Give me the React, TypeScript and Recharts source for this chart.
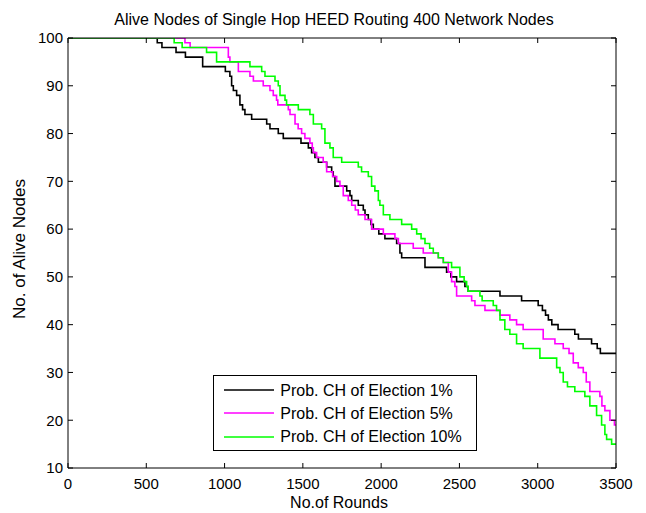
import React from "react";
import { LineChart, Line, XAxis, YAxis, Legend, Label } from "recharts";

// ---- Data (round at which the count of alive nodes changes, new count) ----
const black1Rounds = [0, 570, 600, 690, 750, 860, 1005, 1034, 1045, 1056, 1077, 1098, 1115, 1130, 1173, 1269, 1290, 1343, 1375, 1488, 1535, 1556, 1577, 1599, 1652, 1684, 1694, 1705, 1780, 1801, 1812, 1854, 1886, 1897, 1918, 1935, 1950, 1985, 2024, 2099, 2120, 2131, 2280, 2418, 2445, 2482, 2535, 2556, 2759, 2897, 3003, 3030, 3050, 3068, 3090, 3130, 3237, 3260, 3344, 3380, 3400, 3500];
const black1Values = [100, 99, 98, 97, 96, 94, 93, 92, 90, 89, 88, 86, 85, 84, 83, 82, 81, 80, 79, 78, 77, 76, 75, 74, 73, 72, 71, 69, 68, 67, 66, 65, 64, 63, 62, 61, 60, 59, 58, 57, 55, 54, 52, 51, 50, 49, 48, 47, 46, 45, 44, 43, 42, 41, 40, 39, 38, 37, 36, 35, 34, 34];

const magenta5Rounds = [0, 747, 780, 1024, 1034, 1088, 1162, 1184, 1247, 1290, 1311, 1332, 1340, 1407, 1418, 1450, 1470, 1492, 1513, 1545, 1560, 1567, 1588, 1630, 1652, 1690, 1716, 1737, 1758, 1790, 1812, 1835, 1854, 1897, 1939, 2014, 2088, 2110, 2205, 2269, 2365, 2397, 2429, 2450, 2471, 2482, 2578, 2599, 2663, 2759, 2822, 2865, 2907, 3035, 3110, 3163, 3200, 3227, 3259, 3291, 3310, 3333, 3397, 3410, 3429, 3461, 3490, 3500];
const magenta5Values = [100, 99, 98, 96, 95, 93, 92, 91, 90, 89, 88, 87, 86, 85, 84, 82, 81, 80, 79, 78, 77, 76, 75, 74, 72, 71, 70, 69, 67, 66, 65, 64, 63, 62, 60, 59, 58, 57, 56, 55, 54, 53, 51, 49, 48, 46, 45, 44, 43, 42, 41, 40, 39, 37, 36, 35, 34, 32, 31, 30, 28, 26, 25, 23, 22, 20, 19, 19];

const green10Rounds = [0, 678, 729, 885, 949, 1162, 1237, 1258, 1322, 1343, 1354, 1386, 1396, 1471, 1545, 1567, 1620, 1641, 1673, 1694, 1748, 1854, 1875, 1918, 1939, 1960, 1982, 1992, 2014, 2056, 2131, 2195, 2227, 2255, 2280, 2310, 2333, 2365, 2397, 2450, 2503, 2530, 2546, 2556, 2631, 2645, 2716, 2737, 2759, 2790, 2822, 2865, 2907, 3014, 3121, 3142, 3163, 3190, 3237, 3301, 3333, 3376, 3408, 3429, 3440, 3472, 3500];
const green10Values = [100, 99, 98, 97, 95, 94, 93, 92, 91, 90, 88, 87, 86, 85, 84, 82, 81, 78, 77, 75, 74, 73, 72, 71, 69, 68, 66, 65, 63, 62, 61, 60, 59, 58, 57, 56, 55, 54, 53, 52, 50, 49, 48, 47, 46, 45, 44, 43, 41, 39, 38, 36, 35, 33, 31, 30, 28, 27, 26, 25, 23, 21, 19, 17, 16, 15, 15];

const xTicks = [0, 500, 1000, 1500, 2000, 2500, 3000, 3500];
const yTicks = [10, 20, 30, 40, 50, 60, 70, 80, 90, 100];

const seriesNames = ["Prob. CH of Election 1%", "Prob. CH of Election 5%", "Prob. CH of Election 10%"];
const seriesColors = ["#000000", "#ff00ff", "#00ff00"];

const titleText = "Alive Nodes of Single Hop HEED Routing 400 Network Nodes";
const xLabelText = "No.of Rounds";
const yLabelText = "No. of Alive Nodes";

const toPoints = (rs: number[], vs: number[]) => rs.map((r, i) => ({ r, v: vs[i] }));
const seriesData = [
  toPoints(black1Rounds, black1Values),
  toPoints(magenta5Rounds, magenta5Values),
  toPoints(green10Rounds, green10Values),
];

const FONT = '"Liberation Sans", Arial, Helvetica, sans-serif';
const BOTTOM_MARGIN = 10;
const TICK_LEN = 5;

const BottomTick = (p: any) => {
  const { x, y, payload } = p;
  const ay = y - BOTTOM_MARGIN;
  return (
    <g>
      <line x1={x} x2={x} y1={ay} y2={ay - TICK_LEN} stroke="#000" strokeWidth={1} />
      <text x={x} y={y} dy="0.71em" textAnchor="middle" fontSize={15} fontFamily={FONT} fill="#000">
        {payload.value}
      </text>
    </g>
  );
};

const TopTick = (p: any) => {
  const { x, y } = p;
  return <line x1={x} x2={x} y1={y} y2={y + TICK_LEN} stroke="#000" strokeWidth={1} />;
};

const LeftTick = (p: any) => {
  const { x, y, payload } = p;
  const ax = x + 5;
  return (
    <g>
      <line x1={ax} x2={ax + TICK_LEN} y1={y} y2={y} stroke="#000" strokeWidth={1} />
      <text x={x} y={y} dy="0.355em" textAnchor="end" fontSize={15} fontFamily={FONT} fill="#000">
        {payload.value}
      </text>
    </g>
  );
};

const RightTick = (p: any) => {
  const { x, y } = p;
  return <line x1={x} x2={x - TICK_LEN} y1={y} y2={y} stroke="#000" strokeWidth={1} />;
};

const TitleContent = (props: any) => {
  const vb = props.viewBox || { x: 60, y: 0, width: 548, height: 30 };
  return (
    <text x={vb.x + vb.width / 2 - 8} y={16.5} textAnchor="middle" fontSize={16} fontFamily={FONT} fill="#000">
      {titleText}
    </text>
  );
};

const XLabelContent = (props: any) => {
  const vb = props.viewBox || { x: 60, y: 460, width: 548, height: 45 };
  return (
    <text x={vb.x + vb.width / 2 - 3} y={500} textAnchor="middle" fontSize={16} fontFamily={FONT} fill="#000">
      {xLabelText}
    </text>
  );
};

const YLabelContent = () => (
  <text x={17} y={241} transform="rotate(-90 17 241)" textAnchor="middle" fontSize={17} fontFamily={FONT} fill="#000">
    {yLabelText}
  </text>
);

const LegendBox = () => (
  <div
    style={{
      border: "1px solid #000",
      background: "#fff",
      width: 264,
      height: 76,
      boxSizing: "border-box",
      paddingTop: 2.5,
      paddingLeft: 9.6,
      fontFamily: FONT,
      fontSize: 16,
      color: "#000",
    }}
  >
    {seriesNames.map((name, i) => (
      <div key={name} style={{ display: "flex", alignItems: "center", height: 23.3 }}>
        <svg width={50} height={4} style={{ display: "block" }}>
          <line x1={0} x2={50} y1={2} y2={2} stroke={seriesColors[i]} strokeWidth={1.6} />
        </svg>
        <span style={{ marginLeft: 6.7, whiteSpace: "nowrap", lineHeight: "23px" }}>{name}</span>
      </div>
    ))}
  </div>
);

export default function App() {
  return (
    <LineChart width={630} height={505} margin={{ top: 0, right: 0, bottom: 0, left: 0 }} style={{ background: "#fff" }}>
      <XAxis
        xAxisId="bottom"
        dataKey="r"
        type="number"
        domain={[0, 3500]}
        allowDataOverflow
        ticks={xTicks}
        orientation="bottom"
        height={45}
        tickSize={0}
        tickMargin={BOTTOM_MARGIN}
        tickLine={false}
        axisLine={{ stroke: "#000", strokeWidth: 1 }}
        tick={BottomTick}
        interval={0}
      >
        <Label content={XLabelContent} />
      </XAxis>
      <XAxis
        xAxisId="top"
        dataKey="r"
        type="number"
        domain={[0, 3500]}
        allowDataOverflow
        ticks={xTicks}
        orientation="top"
        height={30}
        tickSize={0}
        tickMargin={0}
        tickLine={false}
        axisLine={{ stroke: "#000", strokeWidth: 1 }}
        tick={TopTick}
        interval={0}
      >
        <Label content={TitleContent} />
      </XAxis>
      <YAxis
        yAxisId="left"
        type="number"
        domain={[10, 100]}
        allowDataOverflow
        ticks={yTicks}
        orientation="left"
        width={60}
        tickSize={0}
        tickMargin={5}
        tickLine={false}
        axisLine={{ stroke: "#000", strokeWidth: 1 }}
        tick={LeftTick}
        interval={0}
      >
        <Label content={YLabelContent} />
      </YAxis>
      <YAxis
        yAxisId="right"
        type="number"
        domain={[10, 100]}
        allowDataOverflow
        ticks={yTicks}
        orientation="right"
        width={22}
        tickSize={0}
        tickMargin={0}
        tickLine={false}
        axisLine={{ stroke: "#000", strokeWidth: 1 }}
        tick={RightTick}
        interval={0}
      />
      {seriesData.map((d, i) => (
        <Line
          key={seriesNames[i]}
          name={seriesNames[i]}
          data={d}
          xAxisId="bottom"
          yAxisId="left"
          dataKey="v"
          type="stepAfter"
          stroke={seriesColors[i]}
          strokeWidth={1.6}
          dot={false}
          activeDot={false}
          isAnimationActive={false}
        />
      ))}
      <Legend
        layout="horizontal"
        verticalAlign="middle"
        align="center"
        content={LegendBox}
        wrapperStyle={{ position: "absolute", left: 205, top: 367, width: 264, height: 76 }}
      />
    </LineChart>
  );
}
